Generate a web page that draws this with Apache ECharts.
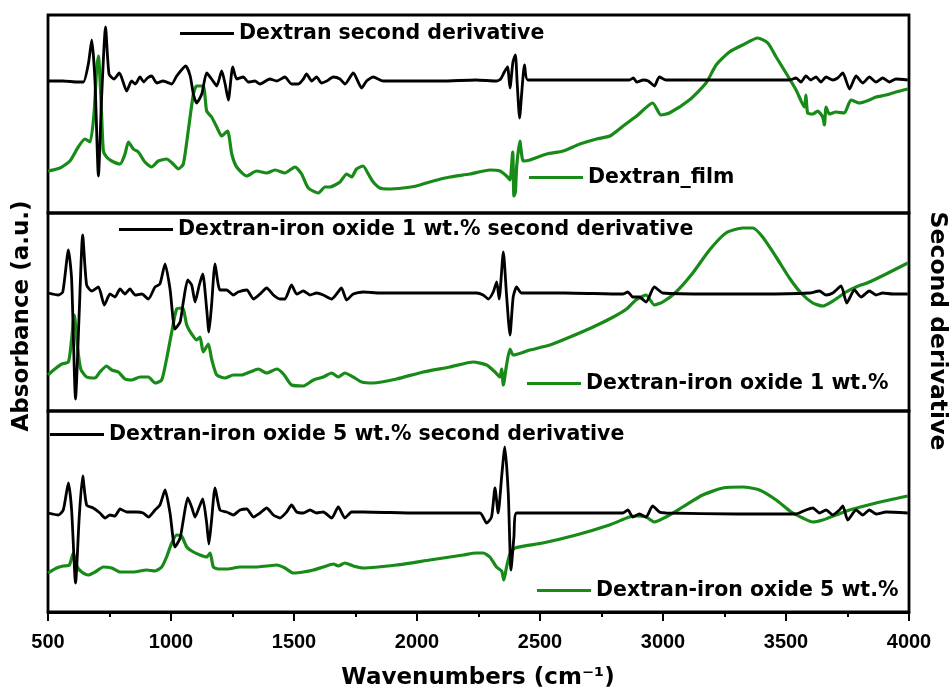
<!DOCTYPE html>
<html>
<head>
<meta charset="utf-8">
<script src="https://cdn.jsdelivr.net/npm/echarts@6/dist/echarts.min.js"></script>
<style>
  html, body { margin: 0; padding: 0; background: #fff; }
  #chart { width: 952px; height: 692px; }
</style>
</head>
<body>
<div id="chart"></div>
<script>
// ---- data (wavenumber, arbitrary intensity) ----
const xMin = 500, xMax = 4000, xStep = 500;
const seriesNames = [
  'Dextran second derivative', 'Dextran_film',
  'Dextran-iron oxide 1 wt.% second derivative', 'Dextran-iron oxide 1 wt.%',
  'Dextran-iron oxide 5 wt.% second derivative', 'Dextran-iron oxide 5 wt.%'
];

const dextranD2 = [[500,131],[560,131],[620,130],[644,130],[664,148],[678,172],[691,131],[705,36],[718,115],[734,185],[748,138],[768,133],[790,139],[820,121],[840,131],[855,128],[874,135],[889,130],[904,134],[921,136],[942,129],[968,131],[1003,128],[1023,136],[1060,146],[1078,136],[1091,118],[1104,109],[1125,118],[1145,139],[1165,133],[1186,126],[1206,141],[1220,128],[1233,112],[1251,145],[1267,133],[1294,135],[1314,130],[1341,131],[1362,128],[1402,133],[1430,131],[1463,135],[1490,128],[1518,128],[1538,133],[1551,138],[1572,131],[1592,135],[1612,129],[1633,131],[1660,135],[1687,133],[1707,128],[1741,139],[1775,124],[1795,131],[1822,135],[1863,131],[1950,131],[2100,131],[2240,132],[2323,131],[2340,133],[2355,140],[2368,145],[2378,124],[2390,150],[2400,157],[2407,130],[2417,94],[2426,120],[2437,147],[2450,132],[2600,132],[2863,132],[2880,134],[2893,130],[2920,132],[2940,131],[2965,126],[2985,135],[3012,132],[3200,132],[3400,132],[3514,132],[3541,134],[3561,130],[3581,136],[3601,132],[3622,135],[3642,130],[3663,135],[3690,132],[3710,134],[3731,139],[3758,123],[3785,136],[3812,129],[3839,135],[3866,130],[3893,134],[3920,130],[3947,133],[3995,132]];

const dextranFilm = [[500,41],[549,44],[589,51],[623,65],[650,73],[671,70],[687,98],[697,140],[705,156],[715,115],[725,61],[738,55],[759,51],[793,48],[813,58],[827,70],[847,63],[867,60],[894,50],[921,45],[948,51],[982,53],[1009,48],[1030,43],[1050,48],[1070,81],[1091,118],[1104,126],[1131,126],[1145,101],[1165,95],[1186,85],[1206,76],[1230,81],[1247,58],[1267,45],[1308,36],[1348,41],[1389,39],[1423,42],[1463,39],[1504,45],[1531,38],[1558,24],[1599,19],[1626,25],[1646,25],[1687,30],[1714,38],[1734,35],[1754,43],[1781,46],[1802,38],[1822,30],[1849,24],[1883,23],[1944,24],[1998,26],[2066,31],[2134,35],[2215,38],[2296,42],[2337,41],[2364,36],[2378,32],[2389,60],[2394,16],[2400,20],[2405,45],[2418,71],[2432,51],[2459,52],[2527,58],[2595,61],[2662,68],[2730,73],[2784,76],[2838,86],[2893,96],[2958,109],[2992,97],[3026,99],[3107,112],[3175,129],[3216,147],[3270,160],[3324,167],[3385,174],[3426,169],[3460,155],[3500,139],[3541,122],[3575,105],[3581,117],[3588,99],[3609,98],[3629,101],[3649,95],[3656,87],[3663,105],[3676,98],[3703,100],[3737,99],[3764,112],[3798,109],[3839,112],[3866,115],[3907,117],[3947,120],[3995,123]];

const iron1D2 = [[500,117],[542,115],[560,118],[583,160],[596,131],[612,11],[627,98],[641,175],[657,125],[678,119],[705,123],[729,105],[752,116],[772,113],[793,121],[813,116],[833,121],[854,115],[881,116],[908,111],[935,123],[955,126],[976,146],[996,121],[1016,81],[1037,88],[1050,108],[1068,130],[1084,125],[1098,108],[1115,125],[1129,136],[1145,101],[1154,78],[1165,105],[1179,146],[1199,120],[1226,120],[1253,115],[1273,118],[1308,120],[1335,111],[1362,116],[1389,122],[1416,115],[1443,111],[1463,111],[1490,125],[1511,116],[1538,119],[1565,115],[1592,117],[1619,115],[1653,111],[1673,116],[1693,122],[1714,110],[1741,116],[1782,118],[1849,117],[2000,117],[2242,117],[2269,115],[2290,111],[2310,118],[2324,128],[2334,111],[2351,158],[2364,115],[2378,75],[2391,113],[2405,123],[2425,117],[2600,117],[2836,116],[2857,118],[2877,113],[2904,113],[2931,108],[2965,123],[2999,117],[3200,116],[3400,116],[3595,117],[3636,119],[3663,115],[3690,117],[3724,124],[3747,107],[3778,120],[3805,113],[3839,119],[3866,115],[3893,117],[3934,116],[3995,116]];

const iron1Abs = [[500,35],[528,41],[556,46],[583,48],[596,71],[607,95],[619,65],[633,41],[657,33],[691,32],[711,38],[738,44],[759,40],[786,38],[813,31],[840,30],[874,33],[908,33],[935,27],[962,30],[982,51],[1003,78],[1023,101],[1047,102],[1064,85],[1084,76],[1104,70],[1118,73],[1131,58],[1152,66],[1165,51],[1186,35],[1220,32],[1253,35],[1287,35],[1321,38],[1355,41],[1389,37],[1430,41],[1457,36],[1490,25],[1538,24],[1579,30],[1619,33],[1653,37],[1680,33],[1707,37],[1741,33],[1775,28],[1822,27],[1917,31],[2025,38],[2134,43],[2229,48],[2283,45],[2317,38],[2337,33],[2344,41],[2351,25],[2364,45],[2378,61],[2391,55],[2459,60],[2540,65],[2622,73],[2716,83],[2798,93],[2852,101],[2890,110],[2931,115],[2965,105],[2999,108],[3053,118],[3121,137],[3189,160],[3256,177],[3324,182],[3365,182],[3405,173],[3460,153],[3514,132],[3561,117],[3609,107],[3649,104],[3697,110],[3744,118],[3785,123],[3839,128],[3907,136],[3995,147]];

const iron5D2 = [[500,99],[542,97],[562,102],[583,129],[596,102],[612,29],[627,95],[641,136],[657,107],[684,104],[711,99],[732,94],[752,97],[772,96],[793,103],[820,100],[860,100],[887,99],[908,95],[935,102],[955,107],[976,122],[996,99],[1016,65],[1037,74],[1050,92],[1068,114],[1084,105],[1098,95],[1115,105],[1129,113],[1145,89],[1154,68],[1165,92],[1179,124],[1199,102],[1226,100],[1253,97],[1281,102],[1308,103],[1335,95],[1362,99],[1389,104],[1416,97],[1443,94],[1470,100],[1490,107],[1511,100],[1538,99],[1565,102],[1592,99],[1619,100],[1653,94],[1680,105],[1707,94],[1734,100],[1782,100],[2000,99],[2256,99],[2283,89],[2303,95],[2317,124],[2330,99],[2344,135],[2357,165],[2371,119],[2382,42],[2394,75],[2405,99],[2600,99],[2836,99],[2857,102],[2877,95],[2904,98],[2931,95],[2958,106],[2985,100],[3012,99],[3300,98],[3541,98],[3581,102],[3609,104],[3636,99],[3663,102],[3690,97],[3717,102],[3731,106],[3751,92],[3785,102],[3812,97],[3839,102],[3866,98],[3907,100],[3995,99]];

const iron5Abs = [[500,39],[535,44],[562,46],[587,47],[603,59],[619,45],[637,40],[664,37],[691,40],[725,45],[759,44],[793,40],[847,40],[901,42],[935,41],[962,45],[982,55],[1003,69],[1023,77],[1043,76],[1064,65],[1091,60],[1118,57],[1145,55],[1159,59],[1172,45],[1192,43],[1230,43],[1281,45],[1348,45],[1389,46],[1430,47],[1463,44],[1497,39],[1538,40],[1579,42],[1619,45],[1660,48],[1680,46],[1707,49],[1741,46],[1782,44],[1917,47],[2052,52],[2188,57],[2240,59],[2269,59],[2296,55],[2323,45],[2344,41],[2353,32],[2364,45],[2378,58],[2398,64],[2511,69],[2647,77],[2782,87],[2863,95],[2893,96],[2931,95],[2965,90],[3012,95],[3080,105],[3161,117],[3243,124],[3324,125],[3392,122],[3460,112],[3521,100],[3568,94],[3609,90],[3649,92],[3703,97],[3758,102],[3866,109],[3995,116]];

// ---- styling ----
const GREEN = '#178a17';
const BLACK = '#000000';
const legendFont = { fontFamily: 'DejaVu Sans', fontWeight: 'bold', fontSize: 20.5, color: '#000', lineHeight: 20 };

const chart = echarts.init(document.getElementById('chart'), null, { renderer: 'canvas' });

const gridBase = { left: 48, width: 861, show: true, borderColor: '#000', borderWidth: 2.8, backgroundColor: 'transparent' };

function xAxisFor(i, visible) {
  return {
    gridIndex: i, type: 'value', min: xMin, max: xMax, interval: xStep,
    show: visible,
    axisLine: { show: visible, lineStyle: { color: '#000', width: 2.8 } },
    axisTick: { show: visible, inside: false, length: 9, lineStyle: { color: '#000', width: 2 } },
    minorTick: { show: visible, splitNumber: 2, length: 5, lineStyle: { color: '#000', width: 2 } },
    splitLine: { show: false }, minorSplitLine: { show: false },
    axisLabel: { show: visible, margin: 20, fontFamily: 'Liberation Sans', fontWeight: 'bold', fontSize: 20, color: '#000',
                 formatter: function (v) { return String(v); } }
  };
}

function lineSeries(name, data, idx, color, width, z) {
  return {
    name, type: 'line', data, xAxisIndex: idx, yAxisIndex: idx,
    symbol: 'none', showSymbol: false, smooth: 0.2,
    lineStyle: { color, width }, itemStyle: { color },
    z, animation: false, silent: true
  };
}

function legendAt(name, left, top) {
  return {
    data: [name], left, top, orient: 'horizontal', padding: 0,
    icon: 'rect', itemWidth: 54, itemHeight: 3, selectedMode: false,
    textStyle: legendFont
  };
}

const option = {
  backgroundColor: '#ffffff',
  animation: false,
  grid: [
    Object.assign({ top: 15, height: 198 }, gridBase),
    Object.assign({ top: 213, height: 198 }, gridBase),
    Object.assign({ top: 411, height: 201 }, gridBase)
  ],
  xAxis: [xAxisFor(0, false), xAxisFor(1, false), xAxisFor(2, true)],
  yAxis: [
    { gridIndex: 0, type: 'value', min: -1, max: 197, show: false, splitLine: { show: false } },
    { gridIndex: 1, type: 'value', min: -1, max: 197, show: false, splitLine: { show: false } },
    { gridIndex: 2, type: 'value', min: 0, max: 201, show: false, splitLine: { show: false } }
  ],
  legend: [
    legendAt(seriesNames[0], 180, 23),
    legendAt(seriesNames[1], 529, 167),
    legendAt(seriesNames[2], 119, 219),
    legendAt(seriesNames[3], 527, 373),
    legendAt(seriesNames[4], 50, 424),
    legendAt(seriesNames[5], 537, 580)
  ],
  series: [
    lineSeries(seriesNames[1], dextranFilm, 0, GREEN, 3.2, 2),
    lineSeries(seriesNames[0], dextranD2, 0, BLACK, 2.8, 3),
    lineSeries(seriesNames[3], iron1Abs, 1, GREEN, 3.2, 2),
    lineSeries(seriesNames[2], iron1D2, 1, BLACK, 2.8, 3),
    lineSeries(seriesNames[5], iron5Abs, 2, GREEN, 3.2, 2),
    lineSeries(seriesNames[4], iron5D2, 2, BLACK, 2.8, 3)
  ],
  graphic: [
    { type: 'text', x: 478, y: 678, silent: true,
      style: { text: 'Wavenumbers (cm\u207B\u00B9)', fill: '#000', font: 'bold 23px "DejaVu Sans"',
               align: 'center', verticalAlign: 'middle', textAlign: 'center', textVerticalAlign: 'middle' } },
    { type: 'text', x: 22, y: 316, rotation: Math.PI / 2, silent: true,
      style: { text: 'Absorbance (a.u.)', fill: '#000', font: 'bold 23px "DejaVu Sans"',
               align: 'center', verticalAlign: 'middle', textAlign: 'center', textVerticalAlign: 'middle' } },
    { type: 'text', x: 937, y: 331, rotation: -Math.PI / 2, silent: true,
      style: { text: 'Second derivative', fill: '#000', font: 'bold 23.5px "DejaVu Sans"',
               align: 'center', verticalAlign: 'middle', textAlign: 'center', textVerticalAlign: 'middle' } }
  ]
};

chart.setOption(option);
</script>
</body>
</html>
